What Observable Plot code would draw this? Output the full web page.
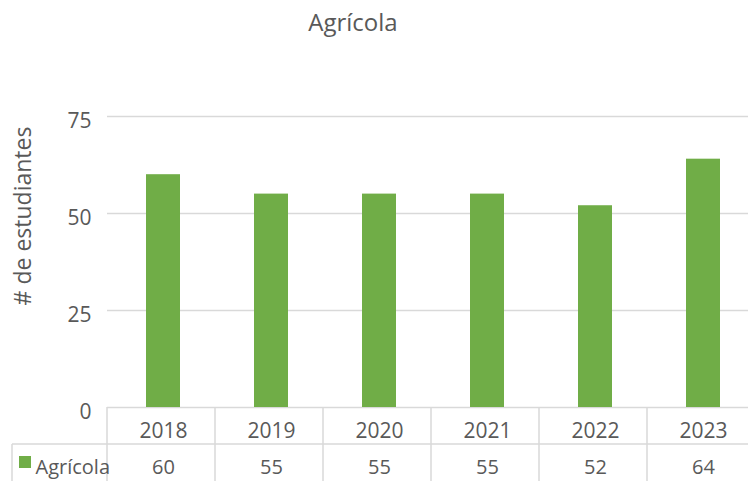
<!DOCTYPE html>
<html><head><meta charset="utf-8">
<script src="https://cdn.jsdelivr.net/npm/d3@7"></script>
<script src="https://cdn.jsdelivr.net/npm/@observablehq/plot@0.6"></script>
<style>
body{margin:0;background:#fff;}
svg{font-family:"Open Sans",sans-serif;}
</style>
</head><body><div id="chart"></div>
<script>
const title = "Agrícola";
const seriesName = "Agrícola";
const years = ["2018", "2019", "2020", "2021", "2022", "2023"];
const values = [60, 55, 55, 55, 52, 64];
const yTicks = [0, 25, 50, 75];
const yLabel = "# de estudiantes";

const data = years.map((year, i) => ({year, value: values[i]}));
const green = "#70ad47";
const textColor = "#595959";
const lineColor = "#d9d9d9";

const W = 748, H = 481;
const plot = Plot.plot({
  width: W, height: H,
  marginTop: 116, marginBottom: 74, marginLeft: 107, marginRight: 0,
  style: {fontFamily: "Open Sans", fontSize: "21px", color: textColor, background: "#fff", overflow: "visible"},
  x: {domain: years, range: [107, 758], padding: 0, axis: null},
  y: {domain: [0, 75], axis: null},
  marks: [
    Plot.gridY(yTicks, {stroke: lineColor, strokeOpacity: 1, strokeWidth: 1.5}),
    Plot.axisY(yTicks, {tickSize: 0, tickPadding: 16, dy: 5, fontSize: 21, fill: textColor, label: null}),
    Plot.barY(data, {x: "year", y: "value", fill: green, insetLeft: 37, insetRight: 37}),
    Plot.text(data, {x: "year", text: "year", frameAnchor: "bottom", lineAnchor: "middle", dy: 24, fontSize: 21, fill: textColor}),
    Plot.text(data, {x: "year", text: d => String(d.value), frameAnchor: "bottom", lineAnchor: "middle", dy: 60, fontSize: 20, fill: textColor}),
    Plot.text([yLabel], {frameAnchor: "left", textAnchor: "middle", lineAnchor: "middle", rotate: -90, dx: -84, dy: -46, fontSize: 23, fill: textColor}),
    Plot.text([title], {frameAnchor: "top", lineAnchor: "middle", dx: -75, dy: -93, fontSize: 24, fill: textColor}),
    Plot.text([seriesName], {frameAnchor: "bottom-left", lineAnchor: "middle", dx: -72, dy: 60, textAnchor: "start", fontSize: 20, fill: textColor})
  ]
});

// data-table frame derived from the scales
const sx = plot.scale("x");
const sy = plot.scale("y");
const svg = d3.select(plot);
const y0 = sy.apply(0);
const bw = sx.bandwidth;
const start = sx.range[0];
const rowSep = y0 + (H - y0) / 2;
const g = svg.insert("g", ":first-child").attr("stroke", lineColor).attr("stroke-width", 1.5);
years.forEach((yr, i) => {
  const xe = start + i * bw;
  g.append("line").attr("x1", xe).attr("x2", xe).attr("y1", y0).attr("y2", H);
});
g.append("line").attr("x1", 12).attr("x2", W).attr("y1", rowSep).attr("y2", rowSep);
g.append("line").attr("x1", 12).attr("x2", 12).attr("y1", rowSep).attr("y2", H);
// legend key
svg.append("rect").attr("x", 19).attr("y", 456).attr("width", 12).attr("height", 12).attr("fill", green);

document.getElementById("chart").appendChild(plot);
</script>
</body></html>
